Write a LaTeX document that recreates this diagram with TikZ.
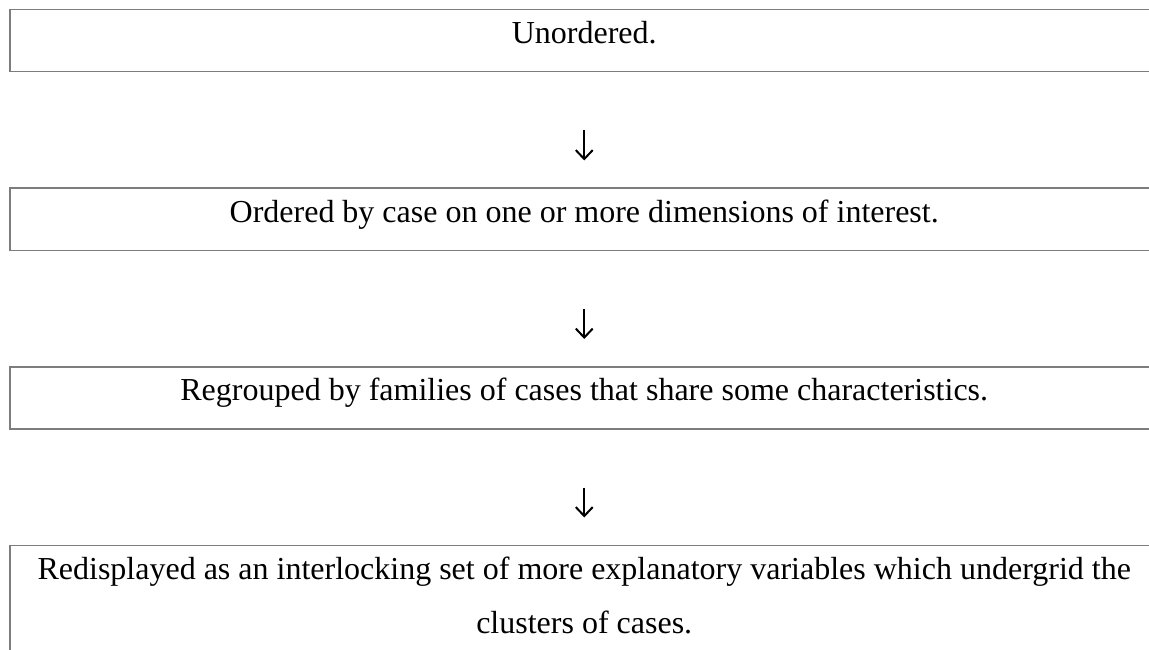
\documentclass[tikz,border=0pt]{standalone}
\usepackage{fontspec}
\setmainfont{Liberation Serif}
\usepackage{tikz}
\usetikzlibrary{positioning,arrows.meta}
\definecolor{BoxGray}{RGB}{125,125,125}
\tikzset{
    stagebox/.style={rectangle, draw=BoxGray, line width=1.5pt, text width=1149pt, inner xsep=0pt, inner ysep=0pt, align=flush center, text height=34pt, text depth=28pt, font=\fontsize{32}{54}\selectfont},
    flowarrow/.style={-{Straight Barb[length=9pt,width=17pt]}, line width=2pt, shorten <=58pt, shorten >=27pt}
}

\begin{document}
\begin{tikzpicture}
    \useasboundingbox (0,0) rectangle (1149pt,-650pt);
    \clip (0,0) rectangle (1149pt,-650pt);
    % Stages
    \node[stagebox, anchor=north west] (unordered) at (9pt,-9pt) {Unordered.};
    \node[stagebox, below=115pt of unordered] (ordered) {Ordered by case on one or more dimensions of interest.};
    \node[stagebox, below=115pt of ordered] (regrouped) {Regrouped by families of cases that share some characteristics.};
    \node[stagebox, below=115pt of regrouped, text depth=120pt] (redisplayed) {Redisplayed as an interlocking set of more explanatory variables which undergrid the\\ clusters of cases.};
    % Arrows
    \draw[flowarrow] (unordered) -- (ordered);
    \draw[flowarrow] (ordered) -- (regrouped);
    \draw[flowarrow] (regrouped) -- (redisplayed);
\end{tikzpicture}
\end{document}
